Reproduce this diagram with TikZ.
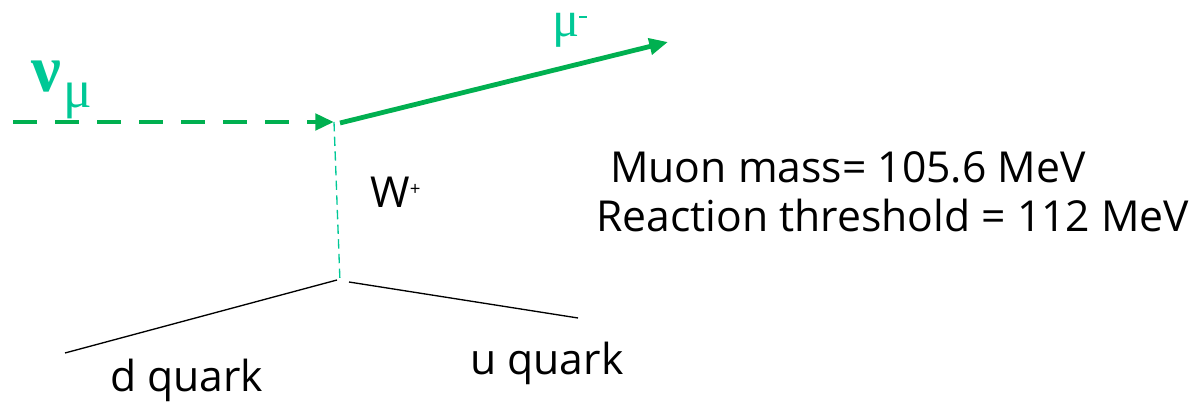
\documentclass[tikz,border=0pt]{standalone}
\usepackage{fontspec}
\setmainfont{Open Sans}
\newfontfamily\grk{Liberation Serif}
\usetikzlibrary{arrows.meta}
\definecolor{arrgreen}{HTML}{00B050}
\definecolor{lblteal}{HTML}{00C896}
\tikzset{
  fermion/.style={draw=arrgreen, line width=3.6pt, -{Triangle[length=14pt,width=12pt]}},
  nuline/.style={fermion, dash pattern=on 18pt off 13.5pt},
  wline/.style={draw=lblteal, line width=1pt, dash pattern=on 7pt off 4pt},
  quarkline/.style={draw=black, line width=1pt},
  lbl/.style={inner sep=0pt, anchor=base west, font=\fontsize{32}{38}\selectfont},
  greek/.style={inner sep=0pt, anchor=base west, text=lblteal}
}
\begin{document}
\begin{tikzpicture}[x=0.75pt, y=-0.75pt]
\useasboundingbox (0,0) rectangle (1189,402);
% vertices
\coordinate (nustart) at (13,122);
\coordinate (top) at (334,122);
\coordinate (mustart) at (340,123);
\coordinate (muend) at (668,42);
\coordinate (bot) at (340,282);
\coordinate (dstart) at (65,353);
\coordinate (dend) at (337,280);
\coordinate (ustart) at (349,282);
\coordinate (uend) at (578,318);
% lines
\draw[nuline] (nustart) -- (top);
\draw[fermion] (mustart) -- (muend);
\draw[wline] (top) -- (bot);
\draw[quarkline] (dstart) -- (dend);
\draw[quarkline] (ustart) -- (uend);
% labels
\node[greek, font=\grk\bfseries\fontsize{50}{60}\selectfont] (nu) at (31,92) {ν};
\node[greek, font=\grk\fontsize{40}{46}\selectfont] (nusub) at (63,108) {μ};
\node[greek, font=\grk\fontsize{38}{44}\selectfont, text height=18pt] (mu) at (552,37) {μ\raisebox{14pt}{\rule{6pt}{1.8pt}}};
\node[lbl] (W) at (370,208) {W\textsuperscript{\fontsize{14}{14}\selectfont +}};
\node[lbl] (mass) at (610,183) {Muon mass= 105.6 MeV};
\node[lbl] (thr) at (596,232) {Reaction threshold = 112 MeV};
\node[lbl] (d) at (110,392) {d quark};
\node[lbl] (u) at (470,375) {u quark};
\end{tikzpicture}
\end{document}
